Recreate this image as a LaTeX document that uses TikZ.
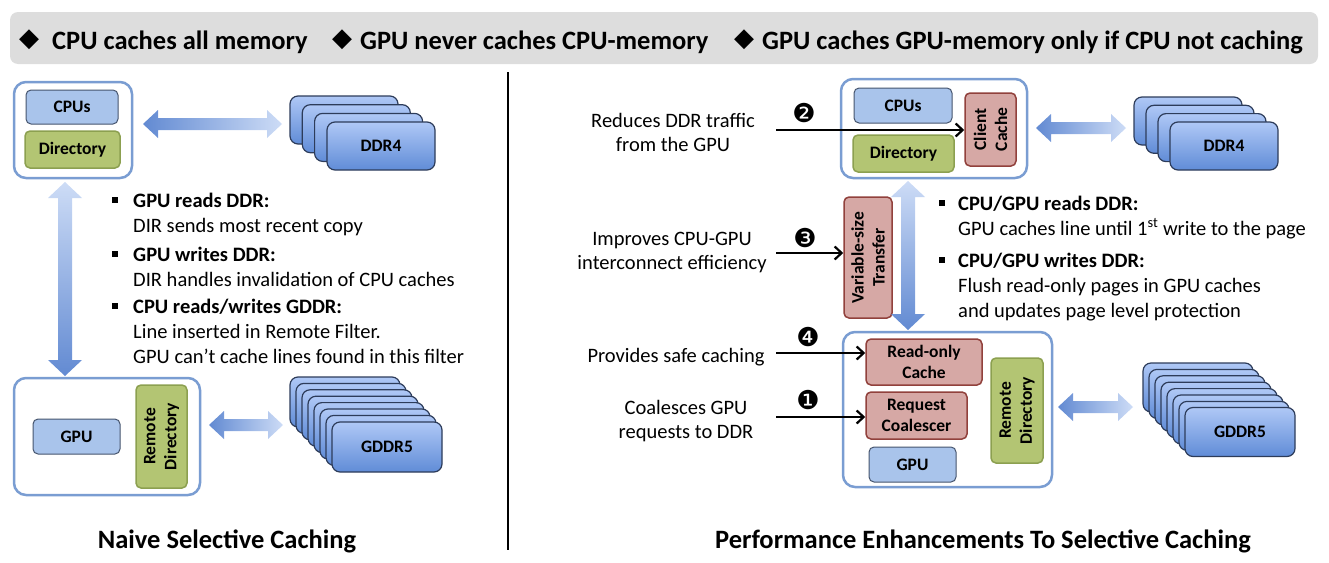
\documentclass[tikz,border=0pt]{standalone}
\usepackage{fontspec}
\setmainfont{Carlito}
\newfontfamily\dingfont{DejaVu Sans}
\usetikzlibrary{calc,arrows.meta}

\definecolor{outerblue}{RGB}{122,157,210}
\definecolor{procfill}{RGB}{169,196,235}
\definecolor{procdraw}{RGB}{70,85,110}
\definecolor{dirfill}{RGB}{179,197,115}
\definecolor{dirdraw}{RGB}{140,160,80}
\definecolor{enhfill}{RGB}{214,168,165}
\definecolor{enhdraw}{RGB}{145,65,60}
\definecolor{memtop}{RGB}{175,200,246}
\definecolor{membot}{RGB}{96,140,215}
\definecolor{memdraw}{RGB}{45,60,90}
\definecolor{arrowdark}{RGB}{98,138,210}
\definecolor{arrowlight}{RGB}{205,220,246}
\definecolor{bannergray}{RGB}{221,221,221}

\newcommand{\boxfont}{\bfseries\fontsize{17.5}{21}\selectfont}

% fat double arrows, tip to tip
\newcommand{\harrow}[2]{%
	\shade[left color=arrowdark,right color=arrowlight]
	(#1) -- ++(15,-14) -- ++(0,8) -- ($(#2)+(-15,-6)$) -- ++(0,-8) -- (#2)
	-- ++(-15,14) -- ++(0,-8) -- ($(#1)+(15,6)$) -- ++(0,8) -- cycle;}
\newcommand{\varrow}[2]{%
	\shade[top color=arrowlight,bottom color=arrowdark]
	(#1) -- ++(17,16) -- ++(-10,0) -- ($(#2)+(7,-16)$) -- ++(10,0) -- (#2)
	-- ++(-17,-16) -- ++(10,0) -- ($(#1)+(-7,16)$) -- ++(-10,0) -- cycle;}

\tikzset{
	outer/.style={draw=outerblue,line width=2.5pt,rounded corners=12pt,fill=white},
	proc/.style={draw=procdraw,fill=procfill,line width=1pt,rounded corners=5pt,font=\boxfont},
	dir/.style={draw=dirdraw,fill=dirfill,line width=1.5pt,rounded corners=5pt,font=\boxfont,align=center},
	enh/.style={draw=enhdraw,fill=enhfill,line width=1.5pt,rounded corners=5pt,font=\boxfont,align=center},
	mem/.style={draw=memdraw,line width=1.2pt,rounded corners=8pt,top color=memtop,bottom color=membot,font=\boxfont},
	note/.style={inner sep=0pt,anchor=base west,align=left,font=\fontsize{20.5}{25}\selectfont},
	why/.style={inner sep=0pt,anchor=base,align=center,font=\fontsize{20.5}{23.5}\selectfont},
	num/.style={inner sep=0pt,font=\dingfont\fontsize{26}{26}\selectfont},
	bul/.style={fill=black,inner sep=0pt,minimum size=6pt},
	rule/.style={inner sep=0pt,anchor=base west,font=\bfseries\fontsize{26.5}{30}\selectfont},
	title/.style={inner sep=0pt,anchor=base,font=\bfseries\fontsize{26.5}{30}\selectfont},
}

\begin{document}
\begin{tikzpicture}[x=1pt,y=-1pt]
	\useasboundingbox (0,0) rectangle (1329,562);

	% banner
	\node[fill=bannergray,rounded corners=8pt,minimum width=1308,minimum height=52] (banner) at (664,38) {};
	\node[num] (d1) at (29,40) {◆};
	\node[num] (d2) at (342,40) {◆};
	\node[num] (d3) at (744,40) {◆};
	\node[rule] (r1) at (52,49) {CPU caches all memory};
	\node[rule] (r2) at (360,49) {GPU never caches CPU-memory};
	\node[rule] (r3) at (762,49) {GPU caches GPU-memory only if CPU not caching};

	\draw[line width=1.2pt] (508,72) -- (508,550);

	% naive selective caching
	\node[outer,minimum width=118,minimum height=96] (cpuBoxL) at (73,130) {};
	\node[proc,minimum width=92,minimum height=34] (cpuL) at (72,107) {CPUs};
	\node[dir,minimum width=95,minimum height=37] (dirL) at (72.5,149.5) {Directory};
	\foreach \i in {0,...,2}
		\node[mem,minimum width=108,minimum height=48] (ddrL\i) at (344+12.3*\i,120+8.7*\i) {};
	\node[mem,minimum width=108,minimum height=48] (ddrL) at (381,146) {DDR4};

	\node[outer,minimum width=186,minimum height=117] (gpuBoxL) at (107,436.5) {};
	\node[proc,minimum width=87,minimum height=35] (gpuL) at (76.5,436.5) {GPU};
	\node[dir,rotate=90,minimum width=103,minimum height=51] (rdirL) at (161.5,436.5) {Remote\\Directory};
	\foreach \i in {0,...,6}
		\node[mem,minimum width=110,minimum height=50] (gddrL\i) at (345+6*\i,402+6.4*\i) {};
	\node[mem,minimum width=110,minimum height=50] (gddrL) at (387,447) {GDDR5};

	\coordinate (aL1) at (143,124);
	\coordinate (aL2) at (282,124);
	\coordinate (aL3) at (65,182);
	\coordinate (aL4) at (65,376);
	\coordinate (aL5) at (209,425);
	\coordinate (aL6) at (283,425);
	\harrow{aL1}{aL2}
	\varrow{aL3}{aL4}
	\harrow{aL5}{aL6}

	% multi-line notes sit on the baseline of their last line
	\foreach \y in {200,254,306}
		\node[bul] at (115,\y) {};
	\node[note] (nL1) at (133,232) {\textbf{GPU reads DDR:}\\DIR sends most recent copy};
	\node[note] (nL2) at (133,286) {\textbf{GPU writes DDR:}\\DIR handles invalidation of CPU caches};
	\node[note] (nL3) at (133,363) {\textbf{CPU reads/writes GDDR:}\\Line inserted in Remote Filter.\\GPU can’t cache lines found in this filter};

	\node[title] (titleL) at (227,548) {Naive Selective Caching};

	% enhancements
	\node[outer,minimum width=186,minimum height=99] (cpuBoxR) at (934,128.5) {};
	\node[proc,minimum width=98,minimum height=35] (cpuR) at (903,105.5) {CPUs};
	\node[dir,minimum width=101,minimum height=37] (dirR) at (903.5,153.5) {Directory};
	\node[enh,rotate=90,minimum width=73,minimum height=51] (ccR) at (990.5,129.5) {Client\\Cache};
	\foreach \i in {0,...,2}
		\node[mem,minimum width=108,minimum height=48] (ddrR\i) at (1188+12*\i,121+8.3*\i) {};
	\node[mem,minimum width=108,minimum height=48] (ddrR) at (1224,146) {DDR4};

	\node[enh,rotate=90,minimum width=121,minimum height=48] (vtR) at (868,257.5) {Variable-size\\Transfer};

	\node[outer,minimum width=209,minimum height=155] (gpuBoxR) at (947.5,409.5) {};
	\node[enh,minimum width=116,minimum height=46] (rocR) at (924,362) {Read-only\\Cache};
	\node[enh,minimum width=101,minimum height=47] (rcR) at (916.5,415.5) {Request\\Coalescer};
	\node[proc,minimum width=87,minimum height=35] (gpuR) at (912.5,464.5) {GPU};
	\node[dir,rotate=90,minimum width=105,minimum height=52] (rdirR) at (1017,410.5) {Remote\\Directory};
	\foreach \i in {0,...,6}
		\node[mem,minimum width=110,minimum height=49] (gddrR\i) at (1198+6*\i,387.5+6.4*\i) {};
	\node[mem,minimum width=110,minimum height=49] (gddrR) at (1240,432) {GDDR5};

	\coordinate (aR1) at (1036,128);
	\coordinate (aR2) at (1126,128);
	\coordinate (aR3) at (908,181);
	\coordinate (aR4) at (908,330);
	\coordinate (aR5) at (1058,407);
	\coordinate (aR6) at (1133,407);
	\harrow{aR1}{aR2}
	\varrow{aR3}{aR4}
	\harrow{aR5}{aR6}

	% what each enhancement does
	\node[why] (w2) at (673,151) {Reduces DDR traffic\\from the GPU};
	\node[why] (w3) at (672,269) {Improves CPU-GPU\\interconnect efficiency};
	\node[why] (w4) at (676,362) {Provides safe caching};
	\node[why] (w1) at (686,438) {Coalesces GPU\\requests to DDR};
	\node[num] (n2) at (804,113) {❷};
	\node[num] (n3) at (805,238) {❸};
	\node[num] (n4) at (808,337) {❹};
	\node[num] (n1) at (808,400) {❶};
	\coordinate (s2) at (776,130);
	\coordinate (s3) at (776,253);
	\coordinate (s4) at (776,353);
	\coordinate (s1) at (776,417);
	\begin{scope}[-{Straight Barb[length=7pt,width=13pt]},line width=2.2pt]
	\draw (s2) -- (s2 -| ccR.north);
	\draw (s3) -- (s3 -| vtR.north);
	\draw (s4) -- (s4 -| rocR.west);
	\draw (s1) -- (s1 -| rcR.west);
	\end{scope}

	\foreach \y in {203,260}
		\node[bul] at (942,\y) {};
	\node[note] (nR1) at (958,235) {\textbf{CPU/GPU reads DDR:}\\GPU caches line until 1\textsuperscript{st} write to the page};
	\node[note] (nR2) at (958,317) {\textbf{CPU/GPU writes DDR:}\\Flush read-only pages in GPU caches\\and updates page level protection};

	\node[title] (titleR) at (983,548) {Performance Enhancements To Selective Caching};
\end{tikzpicture}
\end{document}
